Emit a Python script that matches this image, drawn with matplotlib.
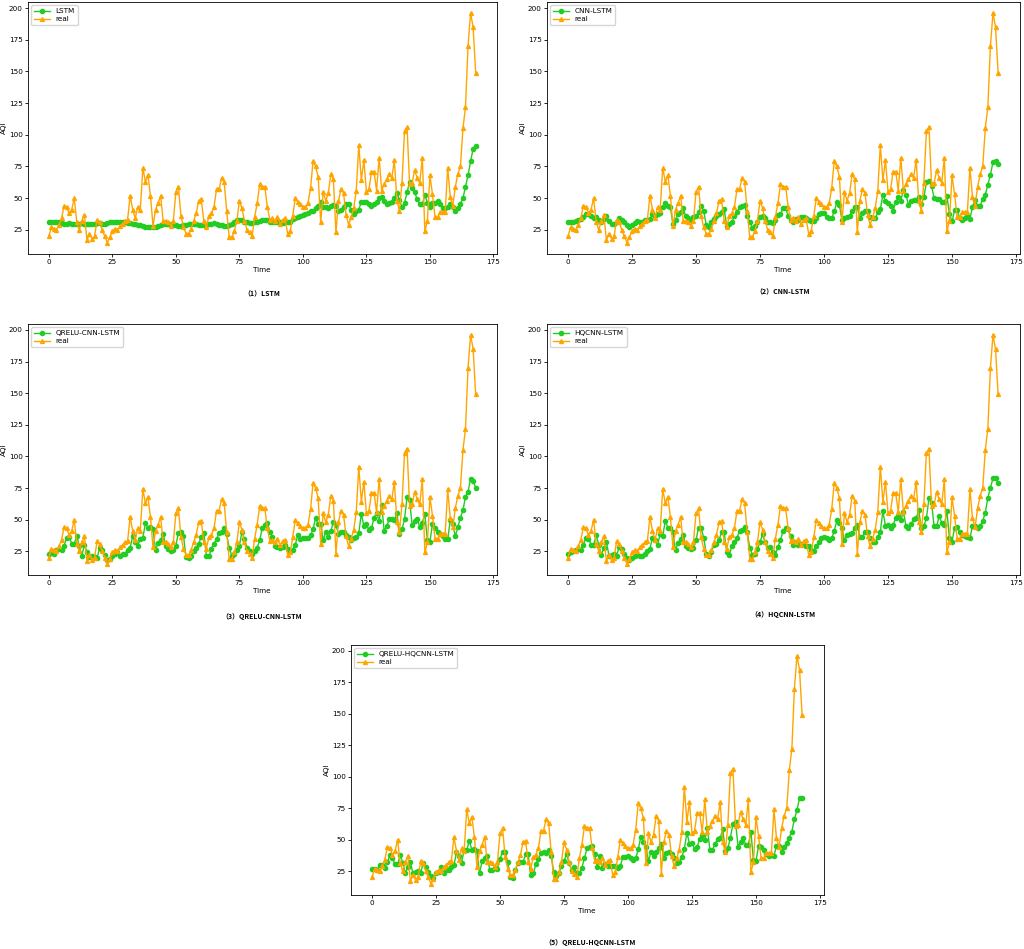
import matplotlib
matplotlib.use("Agg")
import matplotlib.pyplot as plt
import numpy as np

plt.rcParams['font.family'] = ['DejaVu Sans']

real = [20, 27, 26, 25, 29, 34, 44, 43, 38, 41,
        50, 31, 25, 32, 37, 17, 22, 18, 20, 33,
        31, 25, 20, 15, 19, 24, 26, 25, 28, 30,
        32, 33, 52, 41, 34, 43, 41, 74, 63, 68,
        52, 28, 41, 46, 52, 32, 32, 31, 28, 32,
        55, 59, 36, 27, 22, 22, 26, 32, 38, 48,
        49, 32, 27, 36, 38, 43, 57, 57, 66, 63,
        40, 19, 19, 24, 32, 48, 42, 32, 25, 23,
        20, 35, 46, 61, 59, 59, 43, 33, 34, 32,
        35, 30, 33, 34, 22, 24, 36, 50, 47, 45,
        43, 43, 46, 58, 79, 75, 67, 31, 55, 48,
        54, 69, 65, 23, 48, 57, 54, 37, 29, 35,
        42, 56, 92, 64, 80, 55, 57, 71, 71, 56,
        82, 56, 61, 65, 69, 66, 80, 48, 40, 62,
        103, 106, 61, 62, 72, 66, 62, 82, 24, 32,
        68, 53, 35, 35, 39, 39, 39, 74, 51, 44,
        59, 69, 75, 105, 122, 170, 196, 185, 149]

lstm = [31, 31, 31.5, 31.5, 31, 30.5, 30, 30, 30.5, 30,
        29.5, 30, 30, 30.5, 30, 29.5, 29.5, 30, 30, 30.5,
        30.5, 30, 30, 30.5, 31, 31, 31.5, 31.5, 31, 31,
        31, 30.5, 30.5, 30, 29.5, 29, 28.5, 28, 27.5, 27,
        27, 27, 27.5, 28, 29, 30, 30, 30, 29.5, 29,
        28.5, 28, 28, 28.5, 29, 29.5, 30, 30, 29.5, 29,
        28.5, 28.5, 29, 29.5, 30, 30.5, 30, 29, 28.5, 28,
        28, 28.5, 30, 31.5, 32.5, 33, 32.5, 31.5, 31, 30.5,
        30.5, 31, 31.5, 32, 32.5, 33, 32.5, 31.5, 31, 31,
        31, 31, 30.5, 31, 31.5, 31,
        33.5, 34, 35, 36, 36.5, 37.5, 38.5, 39.5, 40, 42,
        44, 47, 43, 43, 42, 44, 44.5, 44, 40, 41,
        43, 45, 45, 41, 37.5, 40, 41, 47, 47, 47,
        45, 44, 45, 47, 50, 51, 48, 45, 46.5, 47,
        50, 54, 48.5, 43, 46.5, 54.5, 63, 58, 54.5, 49,
        45, 45, 52.5, 46.5, 43, 46.5, 46, 48, 45, 42,
        42, 43, 45.5, 43, 39.5, 42, 45.5, 50, 59, 68,
        79, 89, 91]

cnn_lstm = [30.8, 30.8, 31.3, 32, 32.4, 33.4, 34.8, 37.4, 37.4, 35.6,
            34, 34.8, 33, 31.3, 33.4, 36, 31.9, 30, 30, 30.8,
            34, 33, 30.8, 28.7, 27.6, 29.2, 30.3, 31.9, 30.8, 31.3,
            32.4, 33, 33.4, 37.4, 36, 37.4, 38.2, 42.7, 46, 44,
            42.7, 29.5, 33, 37.4, 38.7, 41.9, 35.6, 34, 33, 34.8,
            36, 38.7, 44, 40, 28.7, 27.4, 31.3, 33.4, 35.6, 37.4,
            39.3, 41.4, 28.2, 29.5, 31.3, 35.6, 39.3, 42.7, 44, 44.5,
            36, 31.3, 26.8, 28.2, 31.3, 34.8, 36, 34, 31.3, 30.8,
            30.3, 33, 36.6, 37.4, 42.2, 42.2, 36, 32.6, 30.8, 33.4,
            32.6, 35.3, 35.3, 34.2, 32.6, 31.6, 32, 34.2, 37.4, 37.9,
            37.9, 34.8, 34.2, 34.2, 39.5, 46.6, 44.8, 32.6, 34.2, 35.3,
            36, 39.5, 42.7, 42.7, 34.2, 37.9, 40, 40, 35.3, 34.2,
            34.2, 38.7, 41.4, 52.7, 47.4, 45.8, 44, 40, 46.6, 50.6,
            48, 56.4, 52.7, 44.8, 47.4, 48.5, 48.5, 51, 45.3, 50.6,
            62.5, 63.8, 59.8, 50, 49.3, 49.3, 46.6, 46.6, 52, 37.4,
            31.6, 40.6, 40.6, 34.2, 32.6, 34.2, 36, 33.4, 43.2, 48.5,
            44, 44, 49.3, 52.7, 60.6, 68.5, 78.3, 79.6, 77]

qrelu_cnn_lstm = [23.1, 24.2, 23.1, 26.3, 26.9, 25.8, 29.5, 35.6, 36.4, 31.1,
                  31.1, 36.9, 29, 21.6, 30.3, 24.2, 20.5, 21, 20.5, 19.7,
                  27.7, 26.3, 22.3, 17.8, 18.9, 21.6, 23.1, 24.2, 21.6, 23.1,
                  23.1, 26.3, 27.7, 36.9, 32.2, 29.5, 34.8, 35.6, 47, 43.6,
                  44.4, 42.2, 25.8, 31.6, 33.8, 38.3, 29.5, 26.9, 25, 25.8,
                  29.5, 39.6, 40.1, 36.9, 20.5, 19.7, 21.6, 25, 27.7, 31.1,
                  36.4, 39.6, 21.6, 21, 26.9, 31.1, 34.3, 39.6, 40.1, 43.6,
                  38.3, 27.7, 21.6, 23.1, 26.3, 29.5, 40.1, 34.8, 27.7, 25,
                  23.1, 25, 27.7, 33.8, 43, 45.7, 47.5, 40.4, 36.1, 29,
                  28.2, 27.7, 28.2, 29.8, 27.1, 25.5, 26.3, 30.3, 37.7, 34.3,
                  35.1, 35.1, 35.1, 37.7, 42.2, 51.5, 46.2, 46.2, 33.5, 40.4,
                  36.1, 40.9, 48.3, 45.7, 38.8, 40.4, 40.4, 37.7, 36.1, 33.5,
                  35.1, 36.1, 39.6, 54.7, 44.9, 46.7, 41.4, 43, 51.5, 55.5,
                  48.9, 61.6, 40.9, 44.9, 50.2, 50.2, 49.4, 55.5, 38.3, 42.2,
                  50.2, 68, 65.3, 45.7, 48.9, 50.2, 44.1, 47.5, 54.7, 33.5,
                  32.4, 46.7, 43, 40.4, 38.8, 36.9, 34.3, 34.3, 49.4, 46.2,
                  36.9, 44.1, 51.5, 57.4, 68, 72.2, 82, 80.2, 75.4]

hqcnn_lstm = [23, 24, 25, 26.3, 27, 26.3, 30.3, 35.6, 34.8, 30.3,
              30.3, 37.5, 30.3, 22.3, 27.7, 32.2, 21.6, 22.3, 23.1, 21.6,
              28.4, 27, 23.1, 19.7, 17.8, 19.7, 21.6, 22.3, 21.6, 21.6,
              23.1, 25, 27, 35.6, 33.8, 30.3, 38.3, 37, 48.9, 43.6,
              43.6, 40.1, 25.8, 31.6, 34.8, 37.5, 29, 27.7, 27, 27.7,
              33.8, 43.6, 43.6, 35.6, 23.1, 21.6, 24.2, 30.3, 31.1, 33.8,
              40.1, 40.1, 24.2, 22.3, 29, 32.2, 35.6, 40.9, 41.7, 44.4,
              40.1, 27.7, 22.3, 23.1, 27, 32.2, 38.3, 32.2, 27.7, 28.4,
              24.2, 22.3, 28.4, 33.8, 40.9, 43, 42.2, 36.9, 30.3, 32.4,
              29.8, 30.8, 29.8, 29, 29, 26.3, 25.5, 29, 32.4, 35.1,
              36.1, 35.1, 33.5, 35.1, 40.9, 49.4, 47.5, 43, 33.5, 37.7,
              38.8, 39.6, 43, 45.7, 36.1, 36.1, 40.4, 40.4, 35.1, 32.4,
              32.4, 36.1, 40.4, 56.8, 44.9, 45.7, 43.6, 45.7, 51.5, 52.8,
              49.4, 56.3, 44.9, 43, 46.7, 50.2, 51, 57.4, 43, 44.9,
              51, 66.9, 63.5, 44.9, 44.9, 52.8, 47.5, 45.7, 56.8, 35.1,
              32.4, 43.6, 44.1, 40.4, 37.7, 36.9, 36.1, 35.1, 44.9, 44.9,
              43, 44.9, 48.9, 55.5, 67.4, 74.9, 82.8, 82.8, 78.8]

qrelu_hqcnn_lstm = [26.3, 26.9, 25.8, 29.5, 29.5, 27.7, 32.2, 37.5, 35.6, 30.3,
                    30.3, 37.5, 31.7, 23.1, 28.5, 32.2, 23.1, 24.2, 25, 23.1,
                    31.7, 28.5, 24.2, 21, 19.7, 23.1, 24.2, 28.5, 23.1, 25.8,
                    25.8, 28.5, 29.5, 40.2, 37, 31.7, 41.8, 41.8, 49, 41.8,
                    42.3, 41, 23.1, 33, 35.6, 37, 25.8, 25.8, 27.7, 26.9,
                    34.8, 40.2, 40.2, 32.2, 20.5, 19.7, 25.8, 31.7, 32.2, 32.2,
                    38.3, 38.3, 21.5, 23.1, 30.3, 34.8, 39.1, 40.2, 39.1, 41.8,
                    37, 24.2, 21, 23.1, 29, 33, 38.3, 31.1, 25.8, 28.5,
                    23.1, 23.1, 27.7, 35.6, 43.1, 44.2, 45, 38.3, 28.2, 37,
                    27.7, 30.3, 29, 29, 29, 29, 27.1, 29, 36.2, 36.2,
                    37, 35.1, 33.5, 35.1, 42.3, 52.1, 48.4, 44.2, 33, 40.4,
                    37, 40.4, 43.1, 46.8, 35.1, 39.6, 40.4, 38.3, 35.1, 31.7,
                    32.5, 36.2, 42.3, 55.6, 46.8, 47.6, 42.3, 44.2, 50.3, 53.7,
                    49.5, 59.1, 41.5, 41.5, 46.8, 50.3, 51.1, 58.3, 41, 43.1,
                    51.6, 62.8, 63.6, 44.2, 48.4, 51.6, 45.8, 45.8, 56.4, 33.5,
                    33, 45, 44.2, 41.5, 38.3, 37, 37.8, 37, 45, 45,
                    40.4, 44.2, 47.6, 51.6, 56.4, 66.3, 73.4, 83, 83]

model_names = ["LSTM", "CNN-LSTM", "QRELU-CNN-LSTM", "HQCNN-LSTM", "QRELU-HQCNN-LSTM"]
predictions = [lstm, cnn_lstm, qrelu_cnn_lstm, hqcnn_lstm, qrelu_hqcnn_lstm]
captions = ["（1）LSTM", "（2）CNN-LSTM", "（3）QRELU-CNN-LSTM", "（4）HQCNN-LSTM", "（5）QRELU-HQCNN-LSTM"]

W, H = 1024, 949
fig = plt.figure(figsize=(W / 100, H / 100), dpi=100)

# axes boxes in pixels: left, right, top, bottom
boxes = [(27.5, 497, 1.6, 254),
         (546.5, 1019.6, 1.6, 254),
         (27.5, 497, 323.6, 575.3),
         (546.5, 1019.6, 323.6, 575.3),
         (350.5, 823.6, 644.6, 895)]
cap_pos = [(262, 294), (783, 292), (262, 617), (783, 615), (590, 943)]

GREEN = '#22cc22'
ORANGE = '#ffa500'
fs = 5.2

for i in range(5):
    l, r, t, b = boxes[i]
    ax = fig.add_axes([l / W, 1 - b / H, (r - l) / W, (b - t) / H])
    x = np.arange(len(real))
    ax.plot(np.arange(len(predictions[i])), predictions[i], color=GREEN, marker='o',
            markersize=3, linewidth=1, label=model_names[i])
    ax.plot(x, real, color=ORANGE, marker='^', markersize=2.8, linewidth=1, label='real')
    ax.set_xticks([0, 25, 50, 75, 100, 125, 150, 175])
    ax.set_yticks([25, 50, 75, 100, 125, 150, 175, 200])
    ax.tick_params(labelsize=fs, length=2, width=0.6, pad=1.5)
    ax.set_xlabel('Time', fontsize=fs, labelpad=1.5)
    ax.set_ylabel('AQI', fontsize=fs, labelpad=1)
    for s in ax.spines.values():
        s.set_linewidth(0.6)
    ax.legend(loc='upper left', fontsize=fs, handlelength=2.2, borderpad=0.4,
              labelspacing=0.3, framealpha=0.8)
    cx, cy = cap_pos[i]
    fig.text(cx / W, 1 - cy / H, captions[i], ha='center', va='center',
             fontsize=5, fontweight='bold', family=['Noto Sans CJK SC', 'DejaVu Sans'])

fig.savefig('out.png', dpi=100)
